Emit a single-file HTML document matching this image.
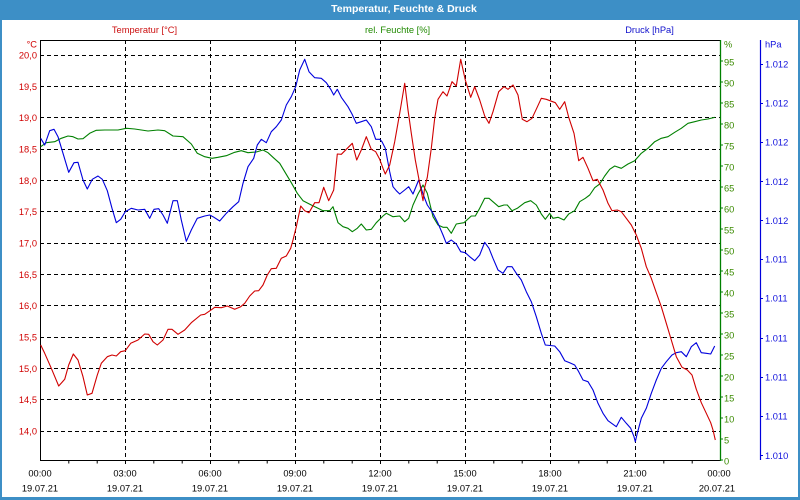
<!DOCTYPE html>
<html>
<head>
<meta charset="utf-8">
<style>
  html,body{margin:0;padding:0;background:#fff;}
  body{width:800px;height:500px;overflow:hidden;}
  svg{display:block;}
  text{font-family:"Liberation Sans",Arial,sans-serif;font-size:9.3px;}
</style>
</head>
<body>
<svg width="800" height="500" viewBox="0 0 800 500" xmlns="http://www.w3.org/2000/svg">
  <rect x="0" y="0" width="800" height="500" fill="#ffffff"/>
  <!-- window frame -->
  <rect x="0" y="0" width="800" height="20" fill="#3d8fc6"/>
  <rect x="0" y="0" width="2" height="500" fill="#3d8fc6"/>
  <rect x="798" y="0" width="2" height="500" fill="#3d8fc6"/>
  <rect x="0" y="497" width="800" height="3" fill="#3d8fc6"/>
  <text x="404" y="12" text-anchor="middle" fill="#ffffff" style="font-weight:bold;font-size:10.5px">Temperatur, Feuchte &amp; Druck</text>

  <!-- header labels -->
  <text x="144.5" y="33" text-anchor="middle" fill="#cc1010">Temperatur [°C]</text>
  <text x="397.5" y="33" text-anchor="middle" fill="#208a00">rel. Feuchte [%]</text>
  <text x="649.5" y="33" text-anchor="middle" fill="#1010cc">Druck [hPa]</text>

  <!-- grid -->
  <g stroke="#000" stroke-width="1" stroke-dasharray="4,3" fill="none">
    <line x1="40" y1="55.5" x2="720" y2="55.5"/>
    <line x1="40" y1="86.5" x2="720" y2="86.5"/>
    <line x1="40" y1="117.5" x2="720" y2="117.5"/>
    <line x1="40" y1="149.5" x2="720" y2="149.5"/>
    <line x1="40" y1="180.5" x2="720" y2="180.5"/>
    <line x1="40" y1="211.5" x2="720" y2="211.5"/>
    <line x1="40" y1="243.5" x2="720" y2="243.5"/>
    <line x1="40" y1="274.5" x2="720" y2="274.5"/>
    <line x1="40" y1="305.5" x2="720" y2="305.5"/>
    <line x1="40" y1="337.5" x2="720" y2="337.5"/>
    <line x1="40" y1="368.5" x2="720" y2="368.5"/>
    <line x1="40" y1="399.5" x2="720" y2="399.5"/>
    <line x1="40" y1="431.5" x2="720" y2="431.5"/>
    <line x1="125.5" y1="40" x2="125.5" y2="460"/>
    <line x1="210.5" y1="40" x2="210.5" y2="460"/>
    <line x1="295.5" y1="40" x2="295.5" y2="460"/>
    <line x1="380.5" y1="40" x2="380.5" y2="460"/>
    <line x1="465.5" y1="40" x2="465.5" y2="460"/>
    <line x1="550.5" y1="40" x2="550.5" y2="460"/>
    <line x1="635.5" y1="40" x2="635.5" y2="460"/>
  </g>

  <!-- axes -->
  <g stroke="#000" stroke-width="1" fill="none">
    <line x1="40.5" y1="40" x2="40.5" y2="461"/>
    <line x1="40" y1="40.5" x2="721" y2="40.5"/>
    <line x1="40" y1="460.5" x2="721" y2="460.5"/>
  </g>
  <!-- hour ticks -->
  <g stroke="#000" stroke-width="1">
    <line x1="68.8" y1="460" x2="68.8" y2="463.5"/>
    <line x1="97.2" y1="460" x2="97.2" y2="463.5"/>
    <line x1="125.5" y1="460" x2="125.5" y2="464"/>
    <line x1="153.8" y1="460" x2="153.8" y2="463.5"/>
    <line x1="182.2" y1="460" x2="182.2" y2="463.5"/>
    <line x1="210.5" y1="460" x2="210.5" y2="464"/>
    <line x1="238.8" y1="460" x2="238.8" y2="463.5"/>
    <line x1="267.2" y1="460" x2="267.2" y2="463.5"/>
    <line x1="295.5" y1="460" x2="295.5" y2="464"/>
    <line x1="323.8" y1="460" x2="323.8" y2="463.5"/>
    <line x1="352.2" y1="460" x2="352.2" y2="463.5"/>
    <line x1="380.5" y1="460" x2="380.5" y2="464"/>
    <line x1="408.8" y1="460" x2="408.8" y2="463.5"/>
    <line x1="437.2" y1="460" x2="437.2" y2="463.5"/>
    <line x1="465.5" y1="460" x2="465.5" y2="464"/>
    <line x1="493.8" y1="460" x2="493.8" y2="463.5"/>
    <line x1="522.2" y1="460" x2="522.2" y2="463.5"/>
    <line x1="550.5" y1="460" x2="550.5" y2="464"/>
    <line x1="578.8" y1="460" x2="578.8" y2="463.5"/>
    <line x1="607.2" y1="460" x2="607.2" y2="463.5"/>
    <line x1="635.5" y1="460" x2="635.5" y2="464"/>
    <line x1="663.8" y1="460" x2="663.8" y2="463.5"/>
    <line x1="692.2" y1="460" x2="692.2" y2="463.5"/>
  </g>

  <!-- left axis labels -->
  <g fill="#d00000" text-anchor="end">
    <text x="37" y="47.5">°C</text>
    <text x="37" y="58.5">20,0</text>
    <text x="37" y="89.8">19,5</text>
    <text x="37" y="121.1">19,0</text>
    <text x="37" y="152.4">18,5</text>
    <text x="37" y="183.8">18,0</text>
    <text x="37" y="215.1">17,5</text>
    <text x="37" y="246.4">17,0</text>
    <text x="37" y="277.8">16,5</text>
    <text x="37" y="309.1">16,0</text>
    <text x="37" y="340.4">15,5</text>
    <text x="37" y="371.8">15,0</text>
    <text x="37" y="403.1">14,5</text>
    <text x="37" y="434.4">14,0</text>
  </g>

  <!-- green axis -->
  <line x1="720.5" y1="40" x2="720.5" y2="461" stroke="#008000" stroke-width="1.3"/>
  <g stroke="#008000" stroke-width="1">
    <line x1="720" y1="460" x2="723" y2="460"/>
    <line x1="720" y1="439" x2="723" y2="439"/>
    <line x1="720" y1="418" x2="723" y2="418"/>
    <line x1="720" y1="397" x2="723" y2="397"/>
    <line x1="720" y1="376" x2="723" y2="376"/>
    <line x1="720" y1="355" x2="723" y2="355"/>
    <line x1="720" y1="334" x2="723" y2="334"/>
    <line x1="720" y1="313" x2="723" y2="313"/>
    <line x1="720" y1="292" x2="723" y2="292"/>
    <line x1="720" y1="271" x2="723" y2="271"/>
    <line x1="720" y1="250" x2="723" y2="250"/>
    <line x1="720" y1="229" x2="723" y2="229"/>
    <line x1="720" y1="208" x2="723" y2="208"/>
    <line x1="720" y1="187" x2="723" y2="187"/>
    <line x1="720" y1="166" x2="723" y2="166"/>
    <line x1="720" y1="145" x2="723" y2="145"/>
    <line x1="720" y1="124" x2="723" y2="124"/>
    <line x1="720" y1="103" x2="723" y2="103"/>
    <line x1="720" y1="82" x2="723" y2="82"/>
    <line x1="720" y1="61" x2="723" y2="61"/>
  </g>
  <g fill="#3a8a00">
    <text x="724" y="47.3">%</text>
    <text x="724" y="464.3">0</text>
    <text x="724" y="443.3">5</text>
    <text x="724" y="422.3">10</text>
    <text x="724" y="401.3">15</text>
    <text x="724" y="380.3">20</text>
    <text x="724" y="359.3">25</text>
    <text x="724" y="338.3">30</text>
    <text x="724" y="317.3">35</text>
    <text x="724" y="296.3">40</text>
    <text x="724" y="275.3">45</text>
    <text x="724" y="254.3">50</text>
    <text x="724" y="233.3">55</text>
    <text x="724" y="212.3">60</text>
    <text x="724" y="191.3">65</text>
    <text x="724" y="170.3">70</text>
    <text x="724" y="149.3">75</text>
    <text x="724" y="128.3">80</text>
    <text x="724" y="107.3">85</text>
    <text x="724" y="86.3">90</text>
    <text x="724" y="65.3">95</text>
  </g>

  <!-- blue axis -->
  <line x1="760.5" y1="40" x2="760.5" y2="460" stroke="#0000dd" stroke-width="1.2"/>
  <g stroke="#0000dd" stroke-width="1">
    <line x1="760" y1="64.5" x2="763" y2="64.5"/>
    <line x1="760" y1="103.5" x2="763" y2="103.5"/>
    <line x1="760" y1="142.5" x2="763" y2="142.5"/>
    <line x1="760" y1="181.5" x2="763" y2="181.5"/>
    <line x1="760" y1="220.5" x2="763" y2="220.5"/>
    <line x1="760" y1="259.5" x2="763" y2="259.5"/>
    <line x1="760" y1="298.5" x2="763" y2="298.5"/>
    <line x1="760" y1="338.5" x2="763" y2="338.5"/>
    <line x1="760" y1="377.5" x2="763" y2="377.5"/>
    <line x1="760" y1="416.5" x2="763" y2="416.5"/>
    <line x1="760" y1="455.5" x2="763" y2="455.5"/>
  </g>
  <g fill="#1010dd">
    <text x="765" y="47.3">hPa</text>
    <text x="765" y="67.5">1.012</text>
    <text x="765" y="106.5">1.012</text>
    <text x="765" y="145.7">1.012</text>
    <text x="765" y="185">1.012</text>
    <text x="765" y="224">1.012</text>
    <text x="765" y="262.5">1.011</text>
    <text x="765" y="301.5">1.011</text>
    <text x="765" y="341.3">1.011</text>
    <text x="765" y="380.3">1.011</text>
    <text x="765" y="419.7">1.011</text>
    <text x="765" y="458.8">1.010</text>
  </g>

  <!-- bottom labels -->
  <g fill="#000" text-anchor="middle">
    <text x="40" y="476.7">00:00</text>
    <text x="40" y="491.7">19.07.21</text>
    <text x="125" y="476.7">03:00</text>
    <text x="125" y="491.7">19.07.21</text>
    <text x="210" y="476.7">06:00</text>
    <text x="210" y="491.7">19.07.21</text>
    <text x="295" y="476.7">09:00</text>
    <text x="295" y="491.7">19.07.21</text>
    <text x="380" y="476.7">12:00</text>
    <text x="380" y="491.7">19.07.21</text>
    <text x="465" y="476.7">15:00</text>
    <text x="465" y="491.7">19.07.21</text>
    <text x="550" y="476.7">18:00</text>
    <text x="550" y="491.7">19.07.21</text>
    <text x="635" y="476.7">21:00</text>
    <text x="635" y="491.7">19.07.21</text>
    <text x="719" y="476.7">00:00</text>
    <text x="717" y="491.7">20.07.21</text>
  </g>

  <!-- series -->
  <g fill="none" stroke-width="1.1" stroke-linejoin="round">
    <polyline stroke="#008000" points="40.7,146.7 46.3,142.7 54.7,141.7 61.3,138.3 68,136 73,136.7 78,139 83,138.7 89.7,133.3 96.3,130.3 104.7,130 118,130 126.3,128.3 134.7,129 148,131 158,130 164.7,130.7 173,136 183,136.7 191.3,144 197.3,153.3 204.7,156.7 212,158.3 218,157.3 226.3,155.7 234.7,152.3 241.3,150.7 248,152.7 256.3,152 263,150 268,152.7 273,157.3 279.7,163.3 284.7,171.7 291.3,182.7 297.3,193.3 303,200.7 311.3,205 318,208.3 323,210.7 329.7,210.7 333,206.7 338,222.7 343,226.7 348,228.3 352.3,231.7 357.3,228.3 361.3,224 366.3,230 371.3,229.3 376.3,222.7 383,216 386.3,213.3 393,216.7 399.7,216 404.7,221.7 408.7,218.3 413,205 418,194 423,185 427.3,193.3 433,216.7 438,225 443,227.3 447,227.3 451.3,233.3 456.3,224 464,222.7 471.3,216 475.3,216 479.7,208.3 484.7,198.3 489,198.3 498.7,206.7 504,205 507.3,205 512,210.7 517.3,208.3 524.7,202.7 530.7,200.7 536.3,205 541.3,214 545.3,219.3 549.7,213.3 553,218.3 558,217.3 564,220 568.7,214 574.7,210.7 579.7,201.7 585.3,198.3 589.7,195 594.7,187.7 599.7,184 604.7,176 609.7,169.3 614.7,166 621.3,168.3 628,164 634.7,160.7 641.3,153.3 648,148.3 654.7,141.7 661.3,138.3 668,136.7 674.7,132.3 681.3,128.3 688,123.3 694.7,121.7 701.3,120 708,119 714.7,117.3"/>
    <polyline stroke="#0000dd" points="40.7,138.3 44.7,145 49.7,130.7 54,129.3 58,136.7 63,153.3 68.7,172.3 74,162.7 78,162.3 83,180 87.3,189 92.3,179.3 98,176 102.3,179.3 107.3,190.7 112,208.3 116.3,222.7 120.7,219.3 125.3,211.7 131.3,208.3 138,210 144.7,209.3 149.7,218.3 154,209.3 158.7,208.7 163,215 167.3,223.3 173,200.7 177.3,200.7 181.3,220 186.3,241.3 191.3,230 197.3,218.3 204.7,216 209.7,215 213,216.7 219.7,221 226.3,213.3 233,206.7 238.7,201.7 243,183.3 248,166.7 253.7,158.3 257.3,145 261.3,139.3 266.3,142.7 271.3,131.7 276.3,126.7 281.3,120 286.3,105 291.3,96.7 295.7,86.7 299.7,70 304.7,59.3 309,71.7 314.7,77.7 321.3,78.3 326.3,82.7 330.7,89.3 333.7,95 337.3,89.3 341.3,97.3 348,106.7 352,114 356.3,123.3 361.3,121.7 366.3,120 371.3,126.7 375.7,139.3 379.7,139.3 382,141.7 385.3,148.3 389.7,171.7 393,186.7 396.3,190.7 399.7,194 404.7,190 408.7,186.7 413,194 418.7,180 423,194 427.3,205 433,213.3 438,223.3 443,235 446.3,243.3 451.3,240 456.3,244 460.7,251.7 465.3,252.7 469.7,256.7 474.7,260.7 479.7,255 484.7,242.3 489,248.3 493,258.3 498,270 503,273.3 507.3,266.7 512,266.7 516.3,273.3 521.3,280 526.3,291.7 531.3,301.7 536.3,316.7 541.3,333.3 545.3,345 554.7,346 559.7,351.7 564.7,360.7 569.7,362.7 574.7,365 578.7,371.7 583,380 588,381.7 593,390 598,403.3 603,413.3 608,420.7 616.3,426.7 621.3,417.3 626.3,423.3 630.7,428.3 634,436.7 635.3,441.7 637.3,433.3 641.3,418.3 646.3,408.3 651.3,393.3 656.3,380 661.3,368.3 666.3,361.7 672,355 676.3,352.7 681.3,351.7 686.3,356.7 691.3,346.7 696.3,342.7 701.3,352.7 706.3,353.3 710.7,354 714.7,346"/>
    <polyline stroke="#d00000" points="40.7,345 44.7,353.3 51.3,368.3 58.7,386 64.7,379.3 68.7,365 73.3,354 78,360 83,376.7 87.3,395 92,393.3 97.3,375 101.3,363.3 107.3,356.7 112,355 116.3,356 120.7,351.7 125.3,350.7 130.7,343.3 138,340 144.7,334 148.7,334.3 153,341.7 157.3,345 163,340 168,329.3 172,329.3 178,334.3 184.7,330 191.3,322.7 200.7,315 204.7,314.3 212,309.3 214.7,307.3 221.3,307.7 227.3,306 234.7,309.3 240.7,306.7 244.7,303.3 249.7,296 254.7,291 258.7,290.7 263,285 267.3,275 271.3,268.7 276.3,268.3 281.3,258.3 286.3,256 290.7,248.3 293,240 296.3,226.7 300.7,206 304.7,210.7 309,212.7 314.7,202.7 319,202.7 323.7,187.3 328.7,200.7 333.7,190 337.3,154 341.3,154.3 347.3,148.3 352.3,143.3 356.7,160 361.3,150 366.3,136.7 371.3,149.3 375.7,151.7 379.7,159.3 383,168.3 385.3,174 389.7,165 394.7,141.7 399.7,113.3 404.7,83.3 408,110 411.3,133.3 415.3,160 419.7,183.3 423,200.7 424.7,187.3 427.3,177.3 431.3,148.3 434.7,118.3 438,99.3 443,91.7 447,96 452,81.7 456.3,86 460.7,59.3 465.3,80 470.7,97.3 474.7,86.7 479.7,100 484.7,116 489,123.3 493,111.7 498.7,91.7 504,86.7 508,89.3 513,85 518,95 522.3,119.3 527,121.7 532,118.3 536.7,108.3 541.3,98.3 546.3,99.3 555.3,102.7 559.7,109.3 564.7,101.7 568.7,117.3 574,133.3 578.7,160.7 583,157.3 588,168.3 593,180.7 597.3,179.3 603,190 608,203.3 612,210.7 617.3,210 621.3,211.7 626.3,218.3 631.3,225 636.3,235 641.3,248.3 646.3,266.7 651.3,278.3 656.3,292.7 661.3,306.7 666.3,323.3 671.3,340 676.3,356.7 682,367.3 687.3,370 692,375 696.3,389.3 701.3,402.7 706.3,413.3 710.7,422.7 713,430 715.3,440"/>
  </g>
</svg>
</body>
</html>
